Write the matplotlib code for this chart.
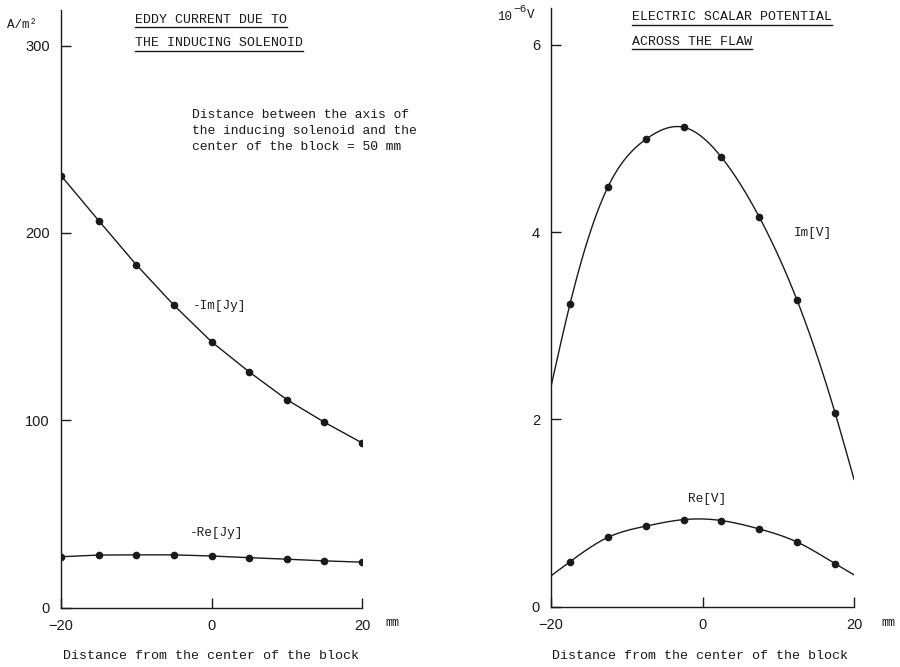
import numpy as np
import matplotlib.pyplot as plt
from matplotlib.lines import Line2D

# Posições ao longo do bloco (mm)
x_jy = [-20, -15, -10, -5, 0, 5, 10, 15, 20]
x_v = [-17.5, -12.5, -7.5, -2.5, 2.5, 7.5, 12.5, 17.5]

# Corrente parasita (A/m^2)
menos_im_jy = [230.6, 206.6, 183.0, 161.4, 141.9, 125.8, 111.0, 98.9, 87.9]
menos_re_jy = [27.1, 28.0, 28.1, 28.1, 27.5, 26.6, 25.8, 24.9, 24.2]

# Potencial escalar elétrico (10^-6 V)
im_v = [3.23, 4.48, 4.99, 5.12, 4.80, 4.16, 3.27, 2.07]
re_v = [0.48, 0.74, 0.86, 0.93, 0.92, 0.83, 0.69, 0.46]
# valores da curva nas bordas do bloco (x = -20 e x = 20)
im_v_bordas = [2.35, 1.36]
re_v_bordas = [0.33, 0.34]

MONO = 'Liberation Mono'
SANS = 'Liberation Sans'
COR = '#1a1a1a'


# Spline cúbica natural para desenhar a curva suave
def spline_natural(xs, ys, xn):
    xs = np.asarray(xs, float)
    ys = np.asarray(ys, float)
    n = len(xs)
    h = np.diff(xs)
    A = np.zeros((n, n))
    b = np.zeros(n)
    A[0, 0] = A[-1, -1] = 1
    for i in range(1, n - 1):
        A[i, i - 1] = h[i - 1]
        A[i, i] = 2 * (h[i - 1] + h[i])
        A[i, i + 1] = h[i]
        b[i] = 6 * ((ys[i + 1] - ys[i]) / h[i] - (ys[i] - ys[i - 1]) / h[i - 1])
    M = np.linalg.solve(A, b)
    idx = np.clip(np.searchsorted(xs, xn) - 1, 0, n - 2)
    x0, x1 = xs[idx], xs[idx + 1]
    hh = x1 - x0
    t0 = x1 - xn
    t1 = xn - x0
    return (M[idx] * t0 ** 3 / (6 * hh) + M[idx + 1] * t1 ** 3 / (6 * hh)
            + (ys[idx] / hh - M[idx] * hh / 6) * t0
            + (ys[idx + 1] / hh - M[idx + 1] * hh / 6) * t1)


def estilo_eixo(ax, yticks, ymax):
    ax.set_xlim(-20, 20)
    ax.set_ylim(0, ymax)
    for lado in ['top', 'right']:
        ax.spines[lado].set_visible(False)
    for lado in ['left', 'bottom']:
        ax.spines[lado].set_color(COR)
        ax.spines[lado].set_linewidth(1.0)
    ax.set_xticks([-20, 0, 20])
    ax.set_yticks(yticks)
    ax.tick_params(direction='in', length=7, width=1.0, color=COR,
                   labelsize=10.5, pad=8)
    for lab in ax.get_xticklabels() + ax.get_yticklabels():
        lab.set_family(SANS)
        lab.set_color(COR)
    ax.patch.set_visible(False)


fig = plt.figure(figsize=(9, 6.67), dpi=100)
ax1 = fig.add_axes([61 / 900, 1 - 607.5 / 667, 301 / 900, 597.5 / 667])
ax2 = fig.add_axes([551 / 900, 1 - 606.7 / 667, 303 / 900, 598.4 / 667])

# Painel esquerdo: corrente parasita
ax1.plot(x_jy, menos_im_jy, '-o', color=COR, lw=1.0, ms=4.5)
ax1.plot(x_jy, menos_re_jy, '-o', color=COR, lw=1.0, ms=4.5)
estilo_eixo(ax1, [0, 100, 200, 300], 319)
ax1.text(-2.5, 161, '-Im[Jy]', family=MONO, fontsize=9.2, va='center', color=COR)
ax1.text(-2.9, 40, '-Re[Jy]', family=MONO, fontsize=9.2, va='center', color=COR)
ax1.text(-2.6, 254.5, 'Distance between the axis of\nthe inducing solenoid and the\n'
         'center of the block = 50 mm', family=MONO, fontsize=9.35,
         va='center', ha='left', linespacing=1.42, color=COR)

# Painel direito: potencial escalar
xs = np.linspace(-20, 20, 400)
nos_x = [-20] + x_v + [20]
nos_im = [im_v_bordas[0]] + im_v + [im_v_bordas[1]]
nos_re = [re_v_bordas[0]] + re_v + [re_v_bordas[1]]
ax2.plot(xs, spline_natural(nos_x, nos_im, xs), color=COR, lw=1.0)
ax2.plot(xs, spline_natural(nos_x, nos_re, xs), color=COR, lw=1.0)
ax2.plot(x_v, im_v, 'o', color=COR, ms=4.5)
ax2.plot(x_v, re_v, 'o', color=COR, ms=4.5)
estilo_eixo(ax2, [0, 2, 4, 6], 6.39)
ax2.text(12.0, 3.99, 'Im[V]', family=MONO, fontsize=9.2, va='center', color=COR)
ax2.text(0.6, 1.15, 'Re[V]', family=MONO, fontsize=9.2, va='center', ha='center', color=COR)

# Títulos sublinhados
titulos = [
    (135, 20, 'EDDY CURRENT DUE TO'),
    (135, 43.5, 'THE INDUCING SOLENOID'),
    (632, 17.5, 'ELECTRIC SCALAR POTENTIAL'),
    (632, 42, 'ACROSS THE FLAW'),
]
textos = []
for px, py, s in titulos:
    t = fig.text(px / 900, 1 - py / 667, s, family=MONO, fontsize=9.5,
                 va='center', ha='left', color=COR)
    textos.append((t, py))

# Unidades e rótulos do eixo x
fig.text(7 / 900, 1 - 25 / 667, 'A/m²', family=MONO, fontsize=9, va='center', color=COR)
fig.text(497 / 900, 1 - 17 / 667, '10', family=MONO, fontsize=9, va='center', color=COR)
fig.text(513 / 900, 1 - 9 / 667, '−6', family=MONO, fontsize=8, va='center', color=COR)
fig.text(527 / 900, 1 - 15 / 667, 'V', family=MONO, fontsize=9, va='center', color=COR)
for cx in [392, 888]:
    fig.text(cx / 900, 1 - 623 / 667, 'mm', family=MONO, fontsize=8.5,
             va='center', ha='center', color=COR)
for cx in [211, 700]:
    fig.text(cx / 900, 1 - 656 / 667, 'Distance from the center of the block',
             family=MONO, fontsize=9.6, va='center', ha='center', color=COR)

fig.canvas.draw()
r = fig.canvas.get_renderer()
for t, py in textos:
    bb = t.get_window_extent(r)
    yl = 1 - (py + 7) / 667
    fig.add_artist(Line2D([bb.x0 / 900, bb.x1 / 900], [yl, yl],
                          transform=fig.transFigure, color=COR, lw=1.0))

fig.savefig('out.png', dpi=100, facecolor='white')
